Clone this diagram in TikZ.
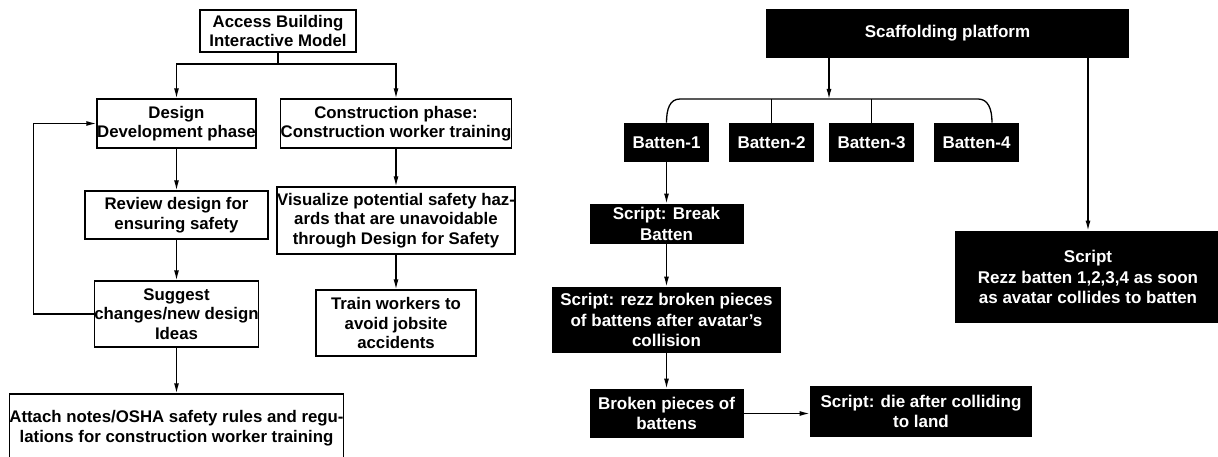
\documentclass[tikz,border=0pt]{standalone}
\usepackage{fontspec}
\setmainfont{Liberation Sans}
\usetikzlibrary{positioning,arrows.meta}

\begin{document}
\begin{tikzpicture}[x=1pt, y=-1pt, thick,
  lbox/.style={draw, line width=1.3pt, inner sep=0pt, align=center, font=\fontsize{16.8}{19.5}\selectfont\bfseries},
  dbox/.style={fill=black, text=white, inner sep=0pt, align=center, font=\fontsize{17}{20.5}\selectfont\bfseries},
  arr/.style={-{Latex[length=10pt, width=5pt]}, line width=1.3pt},
  ln/.style={line width=1.3pt}]
  \useasboundingbox (0,0) rectangle (1218,457);
  \clip (0,0) rectangle (1218,457);

  \node[lbox, minimum width=156, minimum height=42] (access) at (278,31) {Access Building\\Interactive Model};
  \node[lbox, minimum width=159, minimum height=49] (design) at (176.5,123.5) {Design\\Development phase};
  \node[lbox, minimum width=227, minimum height=49] (constr) at (396,123.5) {Construction phase:\\Construction worker training};
  \node[lbox, minimum width=183, minimum height=48] (review) at (176.5,215) {Review design for\\ensuring safety};
  \node[lbox, minimum width=159, minimum height=66] (suggest) at (176.5,314) {Suggest\\changes/new design\\Ideas};
  \node[lbox, minimum width=331, minimum height=84] (attach) at (176.5,436) {Attach notes/OSHA safety rules and regu-\\lations for construction worker training\\~};
  \node[lbox, minimum width=228, minimum height=67] (visual) at (396,220.5) {Visualize potential safety haz-\\ards that are unavoidable\\through Design for Safety};
  \node[lbox, minimum width=160, minimum height=66] (train) at (396,323) {Train workers to\\avoid jobsite\\accidents};

  \coordinate (split) at (278,64);
  \draw[ln] (access.south) -- (split);
  \draw[arr] (split) -| (design);
  \draw[arr] (split) -| (constr);
  \draw[arr] (design) -- (review);
  \draw[arr] (review) -- (suggest);
  \draw[arr] (suggest) -- (attach);
  \draw[arr] (suggest.west) -- ++(-60,0) |- (design.west);
  \draw[arr] (constr) -- (visual);
  \draw[arr] (visual) -- (train);

  \node[dbox, minimum width=363, minimum height=49] (scaff) at (947.5,33.5) {Scaffolding platform};
  \node[dbox, minimum width=85, minimum height=39] (batten1) at (666.5,142.5) {Batten-1};
  \node[dbox, minimum width=85, minimum height=39] (batten2) at (771.5,142.5) {Batten-2};
  \node[dbox, minimum width=85, minimum height=39] (batten3) at (871.5,142.5) {Batten-3};
  \node[dbox, minimum width=85, minimum height=39] (batten4) at (976.5,142.5) {Batten-4};
  \node[dbox, minimum width=154, minimum height=40] (brk) at (666.5,224) {Script: Break\\Batten};
  \node[dbox, minimum width=229, minimum height=66] (rezzpc) at (666.5,320) {Script: rezz broken pieces\\of battens after avatar's\\collision};
  \node[dbox, minimum width=154, minimum height=49] (pieces) at (666.5,413.5) {Broken pieces of\\battens};
  \node[dbox, minimum width=222, minimum height=51] (die) at (921,411.5) {Script: die after colliding\\to land};
  \node[dbox, minimum width=266, minimum height=92] (rezzall) at (1088,277) {Script\\Rezz batten 1,2,3,4 as soon\\as avatar collides to batten};

  \coordinate (bus) at (829,99);
  \coordinate (busl) at (680,99);
  \coordinate (busr) at (978,99);
  \draw[arr] (scaff.south -| bus) -- (bus);
  \draw[ln] (batten1.north) .. controls +(0,-14) and +(-10,0) .. (busl) -- (busr)
    .. controls +(10,0) and +(0,-14) .. ([xshift=15.5]batten4.north);
  \draw[ln] (batten2.north) -- (batten2.north |- bus);
  \draw[ln] (batten3.north) -- (batten3.north |- bus);
  \draw[arr] (scaff.south -| rezzall) -- (rezzall);
  \draw[arr] (batten1) -- (brk);
  \draw[arr] (brk) -- (rezzpc);
  \draw[arr] (rezzpc) -- (pieces);
  \draw[arr] (pieces.east) -- (pieces.east -| die.west);
\end{tikzpicture}
\end{document}
